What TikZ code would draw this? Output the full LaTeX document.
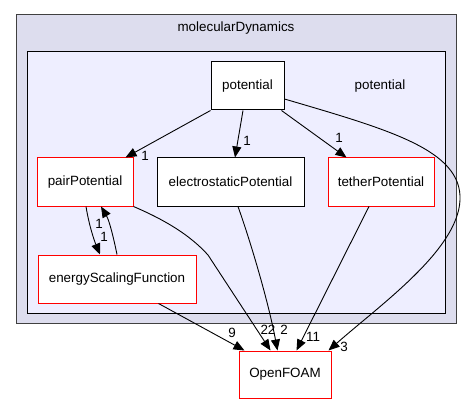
\documentclass[tikz,border=0pt]{standalone}
\usepackage{fontspec}
\setmainfont{Liberation Sans}
\usetikzlibrary{arrows.meta,calc}
\definecolor{outerfill}{RGB}{221,221,238}
\definecolor{innerfill}{RGB}{238,238,255}
\begin{document}
\begin{tikzpicture}[x=1pt,y=-1pt,
 font=\fontsize{13.4}{16}\selectfont,
 box/.style={draw=black, fill=white, line width=1pt, inner sep=0pt, minimum height=48pt},
 redbox/.style={box, draw=red},
 edge/.style={-{Triangle[length=11pt,width=9pt]}, line width=0.9pt},
 lbl/.style={inner sep=0pt}
]
\useasboundingbox (0,0) rectangle (472,404);
\fill[white] (0,0) rectangle (472,404);
\draw[fill=outerfill, line width=1pt, draw=black!75] (16,15) rectangle (456,323);
\node[lbl] (outertitle) at (236,28) {molecularDynamics};
\draw[fill=innerfill, line width=1pt] (27,52) rectangle (445,313);
\node[lbl] (innertitle) at (380,86) {potential};

\node[box, minimum width=73pt] (potential) at (247.5,86) {potential};
\node[redbox, minimum width=96pt] (pair) at (85,182) {pairPotential};
\node[box, minimum width=147pt] (electro) at (230.5,182) {electrostaticPotential};
\node[redbox, minimum width=106pt] (tether) at (381,182) {tetherPotential};
\node[redbox, minimum width=158pt] (energy) at (117,279) {energyScalingFunction};
\node[redbox, minimum width=92pt, minimum height=47pt] (openfoam) at (285,374.5) {OpenFOAM};

\draw[edge] (potential.south west) -- ($(pair.north east)+(-8,0)$);
\node[lbl] (l1) at (145,156) {1};
\draw[edge] ($(potential.south)+(-4.5,0)$) -- ($(electro.north)+(4.5,0)$);
\node[lbl] (l2) at (247,141) {1};
\draw[edge] ($(potential.south east)+(-3,0)$) -- ($(tether.north west)+(19,0)$);
\node[lbl] (l3) at (339,138) {1};
\draw[edge] ($(potential.east)+(0,13)$) .. controls (390,130) and (462,150) .. (460,200)
  .. controls (458,250) and (380,305) .. ($(openfoam.north east)+(-3,0)$);
\node[lbl] (l4) at (344,347) {3};

\draw[edge] ($(pair.south)+(1,0)$) .. controls (89,225) and (94,240) .. ($(energy.north)+(-17,0)$);
\draw[edge] (energy.north) .. controls (113,235) and (109,220) .. ($(pair.south)+(16,0)$);
\node[lbl] (l5) at (99,224) {1};
\node[lbl] (l6) at (104,237) {1};

\draw[edge] (pair.south east) .. controls (165,220) and (190,235) .. (208,255) -- ($(openfoam.north west)+(32,0)$);
\node[lbl] (l7) at (268,330) {22};
\draw[edge] ($(electro.south)+(7.5,0)$) .. controls (250,240) and (268,300) .. ($(openfoam.north west)+(39,0)$);
\node[lbl] (l8) at (284,330) {2};
\draw[edge] ($(tether.south)+(-12,0)$) -- ($(openfoam.north west)+(58,0)$);
\node[lbl] (l9) at (313,337) {11};
\draw[edge] ($(energy.south east)+(-38,0)$) -- ($(openfoam.north west)+(6,0)$);
\node[lbl] (l10) at (232,333) {9};
\end{tikzpicture}
\end{document}
